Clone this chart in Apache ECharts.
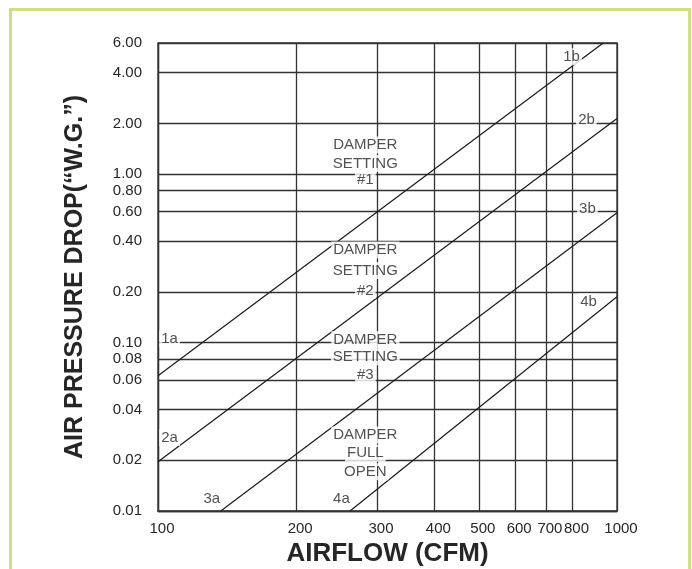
<!DOCTYPE html>
<html><head><meta charset="utf-8">
<script src="https://cdn.jsdelivr.net/npm/echarts@6/dist/echarts.min.js"></script>
<style>html,body{margin:0;padding:0;background:#fff}#c{width:692px;height:569px}</style>
</head><body><div id="c"></div>
<script>
// Axis ticks
const xTicks = [100, 200, 300, 400, 500, 600, 700, 800, 1000];
const yTicks = [0.01, 0.02, 0.04, 0.06, 0.08, 0.1, 0.2, 0.4, 0.6, 0.8, 1, 2, 4, 6];
// Curves [airflow CFM, pressure drop "W.G.]
const setting1 = [[100, 0.0635], [933, 6]];
const setting2 = [[100, 0.0196], [1000, 2.14]];
const setting3 = [[137, 0.01], [1000, 0.59]];
const fullOpen = [[262, 0.01], [1000, 0.187]];
// Curve end tags
const curveTags = ['1a', '1b', '2a', '2b', '3a', '3b', '4a', '4b'];
const curveTagAt = [[106, 0.105], [796, 4.97], [106, 0.0273], [858, 2.1], [131, 0.0118], [862, 0.62], [251, 0.0118], [867, 0.174]];
// Damper captions (one word per anchor)
const damperWords = ['DAMPER', 'SETTING', '#1', 'DAMPER', 'SETTING', '#2', 'DAMPER', 'SETTING', '#3', 'DAMPER', 'FULL', 'OPEN'];
const damperWordAt = [[283, 1.488], [283, 1.155], [283, 0.922], [283, 0.354], [283, 0.268], [283, 0.204], [283, 0.104], [283, 0.0824], [283, 0.0642], [283, 0.0283], [283, 0.022], [283, 0.0171]];

const SANS = "'Liberation Sans', Arial, sans-serif";
const GRID = '#333';
const TXT = '#262626';

const chart = echarts.init(document.getElementById('c'), null, {renderer: 'canvas'});
function lineSeries(data) {
  return {type: 'line', data: data, symbol: 'none', silent: true, z: 3,
    lineStyle: {color: '#1a1a1a', width: 1.2}};
}
function textSeries(names, anchors) {
  return {type: 'scatter', z: 10, silent: true, symbolSize: 1,
    itemStyle: {color: 'rgba(0,0,0,0)'},
    label: {show: true, position: 'inside', formatter: p => p.name,
      color: TXT, fontSize: 15, fontFamily: SANS, lineHeight: 15,
      backgroundColor: '#fff', padding: [1, 2]},
    data: names.map((n, i) => ({name: n, value: anchors[i]}))};
}
chart.setOption({
  animation: false,
  backgroundColor: '#fff',
  graphic: [{type: 'rect', shape: {x: 10.5, y: 9.5, width: 679, height: 620},
    style: {fill: 'none', stroke: '#cfdc8a', lineWidth: 3}, silent: true}],
  grid: {left: 158, right: 75, top: 43, bottom: 58, outerBoundsMode: 'none', containLabel: false,
    show: true, borderColor: GRID, borderWidth: 1.3},
  xAxis: {type: 'log', logBase: 10, min: 100, max: 1000,
    name: 'AIRFLOW (CFM)', nameLocation: 'middle', nameGap: 30,
    nameTextStyle: {fontSize: 26, fontWeight: 'bold', color: TXT, fontFamily: SANS},
    axisLine: {show: true, lineStyle: {color: GRID, width: 1.3}},
    axisTick: {show: false, customValues: xTicks},
    splitLine: {show: true, lineStyle: {color: GRID, width: 1.3}},
    minorSplitLine: {show: false},
    axisLabel: {customValues: xTicks, color: TXT, fontSize: 15, fontFamily: SANS, margin: 10,
      padding: [0, 0, 0, 8], formatter: v => String(Math.round(v))}},
  yAxis: {type: 'log', logBase: 10, min: 0.01, max: 6,
    name: 'AIR PRESSURE DROP(\u201CW.G.\u201D)', nameLocation: 'middle', nameRotate: 90, nameGap: 70,
    nameTextStyle: {fontSize: 25, fontWeight: 'bold', color: TXT, fontFamily: SANS},
    axisLine: {show: true, lineStyle: {color: GRID, width: 1.3}},
    axisTick: {show: false, customValues: yTicks},
    splitLine: {show: true, lineStyle: {color: GRID, width: 1.3}},
    axisLabel: {customValues: yTicks, color: TXT, fontSize: 15, fontFamily: SANS, margin: 16,
      formatter: v => Number(v).toFixed(2)}},
  series: [
    lineSeries(setting1), lineSeries(setting2), lineSeries(setting3), lineSeries(fullOpen),
    textSeries(curveTags, curveTagAt),
    textSeries(damperWords, damperWordAt)
  ]
});
</script></body></html>
